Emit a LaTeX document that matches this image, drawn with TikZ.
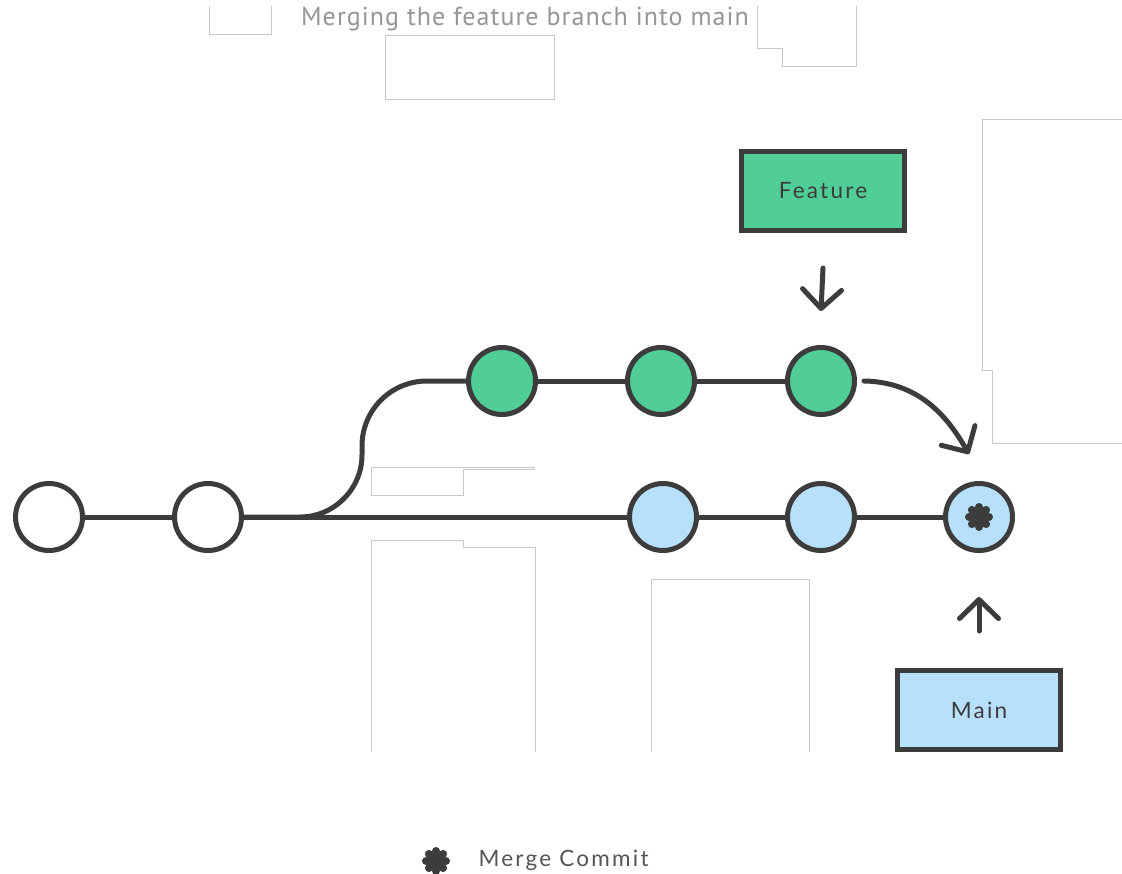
\documentclass[tikz,border=0pt]{standalone}
\usepackage{fontspec}
\setmainfont{Lato}[LetterSpace=10]
\newfontfamily\titlefont{PT Sans}[LetterSpace=4]
\usetikzlibrary{arrows.meta}

\definecolor{ink}{RGB}{60,60,60}
\definecolor{featgreen}{RGB}{80,206,150}
\definecolor{mainblue}{RGB}{182,224,252}
\definecolor{guidegray}{RGB}{200,200,200}
\definecolor{titlegray}{RGB}{150,150,150}
\definecolor{legendgray}{RGB}{85,85,85}

\tikzset{
  commit/.style={circle, draw=ink, line width=5pt, minimum size=67pt, inner sep=0pt},
  basecommit/.style={commit, fill=white},
  featurecommit/.style={commit, fill=featgreen},
  maincommit/.style={commit, fill=mainblue},
  branchline/.style={draw=ink, line width=5pt},
  pointer/.style={draw=ink, line width=5pt, line cap=round,
    -{Straight Barb[length=19pt, width=39pt, round]}},
  refbox/.style={draw=ink, line width=5pt, minimum width=163pt, minimum height=79pt,
    inner sep=0pt, text=ink, font=\fontsize{22.5}{26}\selectfont},
  guide/.style={draw=guidegray, line width=1pt},
  mergemark/.pic={
    \fill[ink] (0,0) circle (9.5);
    \foreach \a in {0,45,...,315} \fill[ink] (\a:10) circle (4);
  }
}

\begin{document}
\begin{tikzpicture}[x=1pt, y=-1pt]
\useasboundingbox (0,0) rectangle (1122,873);
\fill[white] (0,0) rectangle (1122,873);

% thin light-grey outlines
\draw[guide] (209,6) -- (209,34) -- (271,34) -- (271,6);
\draw[guide] (385,35) rectangle (554,99);
\draw[guide] (757,6) -- (757,48) -- (782,48) -- (782,66) -- (856,66) -- (856,6);
\draw[guide] (1122,119) -- (982,119) -- (982,370) -- (992,370) -- (992,443) -- (1122,443);
\draw[guide] (371,467) -- (535,467);
\draw[guide] (371,467) -- (371,495) -- (463,495) -- (463,469) -- (535,469);
\draw[guide] (371,752) -- (371,540) -- (463,540) -- (463,547) -- (535,547) -- (535,752);
\draw[guide] (651,752) -- (651,579) -- (809,579) -- (809,752);

% title
\node[text=titlegray, font=\titlefont\fontsize{26}{30}\selectfont] (title) at (525,19)
  {Merging the feature branch into main};

% commits
\node[basecommit] (b1) at (49,517) {};
\node[basecommit] (b2) at (208,517) {};
\node[featurecommit] (g1) at (502,381) {};
\node[featurecommit] (g2) at (661,381) {};
\node[featurecommit] (g3) at (821,381) {};
\node[maincommit] (m1) at (663,517) {};
\node[maincommit] (m2) at (821,517) {};
\node[maincommit] (mc) at (979,517) {};
\pic at (mc) {mergemark};

% branch references
\node[refbox, fill=featgreen] (feature) at (823,191) {Feature};
\node[refbox, fill=mainblue] (main) at (979,710) {Main};

% history lines
\coordinate (fork) at (300,517);
\coordinate (bend) at (427,381);
\draw[branchline] (b1) -- (b2);
\draw[branchline] (b2) -- (m1);
\draw[branchline] (m1) -- (m2);
\draw[branchline] (m2) -- (mc);
\draw[branchline] (g1) -- (g2);
\draw[branchline] (g2) -- (g3);
\draw[branchline] (b2.east) -- (fork)
  .. controls (334,517) and (362,489) .. (362,455) -- (362,446)
  .. controls (362,410) and (391,381) .. (bend) -- (g1);

% pointers
\coordinate (mergestart) at ([xshift=7pt]g3.east);
\coordinate (mergeend) at (969,454);
\draw[pointer] (mergestart) .. controls (925,382) and (952,425) .. (mergeend);
\draw[pointer] ([yshift=-35pt]feature.south) -- ([yshift=34pt]g3.north);
\draw[pointer] ([yshift=37pt]main.north) -- ([yshift=-44pt]mc.south);

% legend
\pic at (436,861) {mergemark};
\node[anchor=west, text=legendgray, font=\fontsize{22.5}{26}\selectfont] (legend) at (475,860)
  {Merge Commit};
\end{tikzpicture}
\end{document}
